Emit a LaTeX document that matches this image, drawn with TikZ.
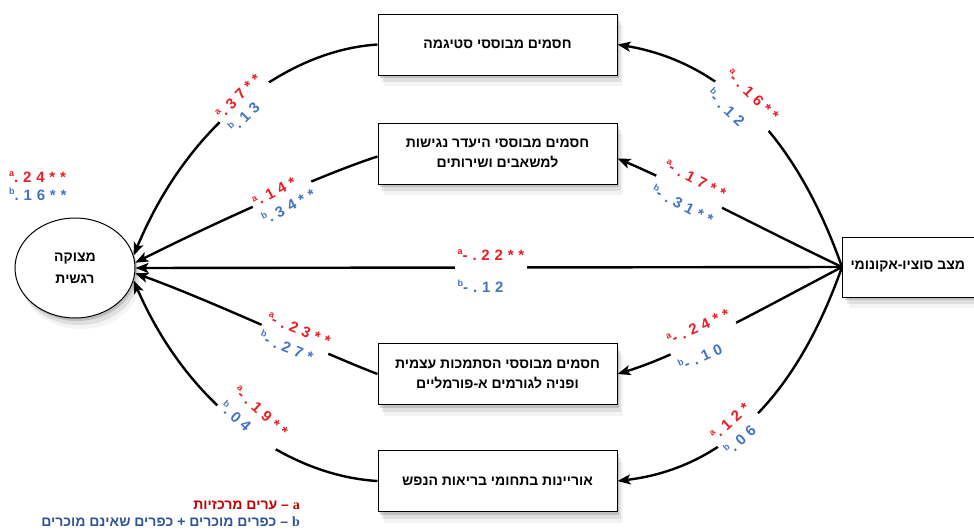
\documentclass[tikz,border=0pt]{standalone}
\usepackage{fontspec}
\setmainfont{Liberation Sans}
\newfontfamily\heb[Script=Hebrew]{Liberation Sans Bold}
\newfontfamily\labfont[LetterSpace=32]{Liberation Sans Bold}
\newfontfamily\serifl{Liberation Serif Bold}
\TeXXeTstate=1
\usetikzlibrary{arrows.meta,shapes.geometric,shadows}
\definecolor{labred}{RGB}{236,28,36}
\definecolor{labblue}{RGB}{68,114,196}
\definecolor{legred}{RGB}{192,0,0}
\definecolor{legblue}{RGB}{47,85,151}
\newcommand\rtl[1]{\beginR #1\endR}
\newcommand\tinyletter[1]{\raisebox{0.75ex}{\fontsize{9}{9}\selectfont #1}}
\newcommand\twolab[3]{{\color{labred}\tinyletter{a}#1}\\[#3]{\color{labblue}\tinyletter{b}#2}}
\tikzset{
 softshadow/.style={drop shadow={shadow xshift=2pt,shadow yshift=-3pt,opacity=.25,fill=black!60},
                    drop shadow={shadow xshift=4pt,shadow yshift=-7pt,opacity=.14,fill=black!60},
                    drop shadow={shadow xshift=6pt,shadow yshift=-11pt,opacity=.07,fill=black!60}},
 box/.style={draw, line width=1pt, fill=white, minimum width=239pt, minimum height=61pt,
   align=center, inner sep=4pt, font=\heb\fontsize{14}{20}\selectfont, softshadow},
 conn/.style={line width=2.4pt, -{Stealth[length=13pt,width=10pt,inset=3pt]}},
 lab/.style={fill=white, inner sep=3pt, align=left, font=\labfont\fontsize{15}{17}\selectfont},
}
\begin{document}
\begin{tikzpicture}[x=1pt,y=-1pt]
\useasboundingbox (0,0) rectangle (974,530);
\fill[white] (0,0) rectangle (974,530);

% nodes
\node[box] (b1) at (497.5,44.5) {\rtl{חסמים מבוססי סטיגמה}};
\node[box] (b2) at (497.5,153.5) {\rtl{חסמים מבוססי היעדר נגישות}\\\rtl{למשאבים ושירותים}};
\node[box] (b3) at (497.5,374) {\rtl{חסמים מבוססי הסתמכות עצמית}\\\rtl{ופניה לגורמים א-פורמליים}};
\node[box] (b4) at (497.5,481) {\rtl{אוריינות בתחומי בריאות הנפש}};
\node[draw, line width=1pt, fill=white, minimum height=60pt, inner xsep=8pt, anchor=west,
  font=\heb\fontsize{14}{20}\selectfont, softshadow] (soc) at (842,267) {\rtl{מצב סוציו-אקונומי}\kern20pt\null};
\node[ellipse, draw, line width=1pt, fill=white, minimum width=120pt, minimum height=100pt,
  align=center, font=\heb\fontsize{14}{22}\selectfont, softshadow] (emo) at (75,268) {\rtl{מצוקה}\\\rtl{רגשית}};

% connectors right side
\draw[conn] (soc.west) .. controls (790,120) and (710,60) .. (b1.east);
\draw[conn] (soc.west) .. controls (760,228) and (680,185) .. ([yshift=-5pt]b2.east);
\draw[conn] (soc.west) -- (emo.east);
\draw[conn] (soc.west) .. controls (760,310) and (680,355) .. (b3.east);
\draw[conn] (soc.west) .. controls (790,414) and (710,470) .. (b4.east);

% connectors left side
\draw[conn] (b1.west) .. controls (290,50) and (190,120) .. (emo.12);
\draw[conn] ([yshift=-3pt]b2.west) .. controls (320,175) and (210,225) .. (emo.5);
\draw[conn] (b3.west) .. controls (320,352) and (210,300) .. (emo.-5);
\draw[conn] (b4.west) .. controls (290,476) and (190,410) .. (emo.-12);

% coefficient labels
\node[lab, fill=none, anchor=west] (tot) at (6,186) {\twolab{.24**}{.16**}{1pt}};
\node[lab, rotate=45] (l1) at (245,103) {\twolab{.37**}{.13}{2pt}};
\node[lab, rotate=28] (l2) at (284,198) {\twolab{.14*}{.34**}{3pt}};
\node[lab] (l3) at (491,271) {\twolab{-.22**}{-.12}{15pt}};
\node[lab, rotate=-22] (l4) at (295,339) {\twolab{-.23**}{-.27*}{4pt}};
\node[lab, rotate=-42] (l5) at (254,419) {\twolab{-.19**}{.04}{4pt}};
\node[lab, rotate=-44] (r1) at (743,105) {\twolab{-.16**}{-.12}{11pt}};
\node[lab, rotate=-27] (r2) at (689,192) {\twolab{-.17**}{-.31**}{12pt}};
\node[lab, rotate=24] (r3) at (704,340) {\twolab{-.24**}{-.10}{12pt}};
\node[lab, rotate=42] (r4) at (737,429) {\twolab{.12*}{.06}{4pt}};

% legend
\node[anchor=east, inner sep=0pt, text=legred, font=\heb\fontsize{14}{16}\selectfont] (lega) at (300,505) {\rtl{{\serifl a} – ערים מרכזיות}};
\node[anchor=east, inner sep=0pt, text=legblue, font=\heb\fontsize{14}{16}\selectfont] (legb) at (300,522) {\rtl{{\serifl b} – כפרים מוכרים + כפרים שאינם מוכרים}};
\end{tikzpicture}
\end{document}
